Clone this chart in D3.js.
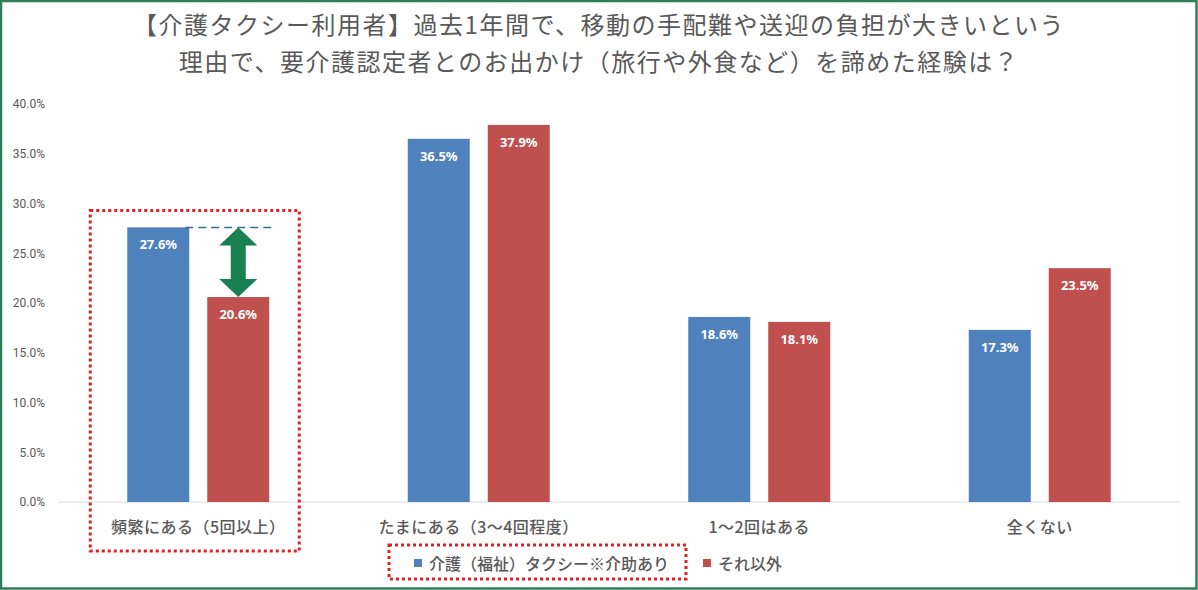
<!DOCTYPE html>
<html>
<head>
<meta charset="utf-8">
<script src="https://cdn.jsdelivr.net/npm/d3@7"></script>
<style>
  body { margin: 0; background: #fff; }
  svg { display: block; }
</style>
</head>
<body>
<svg id="chart"></svg>
<script>
// データ
const categories = ["頻繁にある（5回以上）", "たまにある（3～4回程度）", "1～2回はある", "全くない"];
const seriesNames = ["介護（福祉）タクシー※介助あり", "それ以外"];
const taxiValues = [27.6, 36.5, 18.6, 17.3];
const otherValues = [20.6, 37.9, 18.1, 23.5];
const seriesColors = ["#4f81bd", "#c0504d"];
const yTicks = [0, 5, 10, 15, 20, 25, 30, 35, 40];
const titleLines = [
  "【介護タクシー利用者】過去1年間で、移動の手配難や送迎の負担が大きいという",
  "理由で、要介護認定者とのお出かけ（旅行や外食など）を諦めた経験は？"
];

const width = 1198, height = 590;
const jp = "'Noto Sans CJK JP', 'Noto Sans', sans-serif";
const gray = "#595959";

const svg = d3.select("#chart")
  .attr("width", width)
  .attr("height", height);

// 外枠
svg.append("rect")
  .attr("x", 1).attr("y", 1)
  .attr("width", width - 2.5).attr("height", height - 2.5)
  .attr("fill", "#fff")
  .attr("stroke", "#2e7d5b")
  .attr("stroke-width", 2.5);

// タイトル
svg.append("g").selectAll("text")
  .data(titleLines)
  .enter().append("text")
  .attr("x", 599)
  .attr("y", (d, i) => 23 + i * 37.5)
  .attr("text-anchor", "middle")
  .attr("dominant-baseline", "central")
  .style("font-family", jp)
  .style("font-size", "24px")
  .style("letter-spacing", "1.5px")
  .style("fill", gray)
  .text(d => d);

// スケール
const x = d3.scaleBand()
  .domain(categories)
  .range([58, 1180])
  .padding(0);

const groupW = 142;
const xSub = d3.scaleBand()
  .domain(seriesNames)
  .range([(x.bandwidth() - groupW) / 2, (x.bandwidth() + groupW) / 2])
  .paddingInner(0.225)
  .paddingOuter(0);

const y = d3.scaleLinear()
  .domain([0, 40])
  .range([502, 104]);

// Y軸
const yAxis = svg.append("g")
  .attr("transform", "translate(48,0)")
  .call(d3.axisLeft(y)
    .tickValues(yTicks)
    .tickSize(0)
    .tickPadding(3)
    .tickFormat(d => d.toFixed(1) + "%"));
yAxis.select(".domain").remove();
yAxis.selectAll("text")
  .style("font-family", "Roboto, sans-serif")
  .style("font-size", "12px")
  .style("fill", gray);

// 基準線
svg.append("line")
  .attr("x1", x.range()[0]).attr("x2", x.range()[1])
  .attr("y1", y(0)).attr("y2", y(0))
  .attr("stroke", "#d9d9d9")
  .attr("stroke-width", 1);

// 棒グラフ
const rows = categories.map((c, i) => ({
  cat: c,
  vals: [
    { s: seriesNames[0], v: taxiValues[i], color: seriesColors[0] },
    { s: seriesNames[1], v: otherValues[i], color: seriesColors[1] }
  ]
}));

const groups = svg.append("g").selectAll("g")
  .data(rows)
  .enter().append("g")
  .attr("transform", d => `translate(${x(d.cat)},0)`);

groups.selectAll("rect")
  .data(d => d.vals)
  .enter().append("rect")
  .attr("x", d => xSub(d.s))
  .attr("y", d => y(d.v))
  .attr("width", xSub.bandwidth())
  .attr("height", d => y(0) - y(d.v))
  .attr("fill", d => d.color);

groups.selectAll("text.val")
  .data(d => d.vals)
  .enter().append("text")
  .attr("class", "val")
  .attr("x", d => xSub(d.s) + xSub.bandwidth() / 2)
  .attr("y", d => y(d.v) + 17)
  .attr("text-anchor", "middle")
  .attr("dominant-baseline", "central")
  .style("font-family", "'Noto Sans', sans-serif")
  .style("font-weight", "bold")
  .style("font-size", "13px")
  .style("fill", "#fff")
  .text(d => d.v.toFixed(1) + "%");

// カテゴリラベル
svg.append("g").selectAll("text")
  .data(categories)
  .enter().append("text")
  .attr("x", d => x(d) + x.bandwidth() / 2)
  .attr("y", 526)
  .attr("text-anchor", "middle")
  .attr("dominant-baseline", "central")
  .style("font-family", jp)
  .style("font-size", "16px")
  .style("font-weight", 500)
  .style("letter-spacing", "0.5px")
  .style("fill", gray)
  .text(d => d);

// 注釈：破線と両矢印
const c0 = categories[0];
const blueRight = x(c0) + xSub(seriesNames[0]) + xSub.bandwidth();
const redLeft = x(c0) + xSub(seriesNames[1]);
const redRight = redLeft + xSub.bandwidth();
const redMid = redLeft + xSub.bandwidth() / 2;
const yTop = y(taxiValues[0]);
const yBot = y(otherValues[0]);

svg.append("line")
  .attr("x1", blueRight - 4).attr("x2", redRight + 4)
  .attr("y1", yTop).attr("y2", yTop)
  .attr("stroke", "#2f6f94")
  .attr("stroke-width", 1.5)
  .attr("stroke-dasharray", "8,5");

const hw = 19, sw = 7.5, hh = 18;
svg.append("path")
  .attr("d", [
    "M", redMid, yTop,
    "L", redMid + hw, yTop + hh,
    "L", redMid + sw, yTop + hh,
    "L", redMid + sw, yBot - hh,
    "L", redMid + hw, yBot - hh,
    "L", redMid, yBot,
    "L", redMid - hw, yBot - hh,
    "L", redMid - sw, yBot - hh,
    "L", redMid - sw, yTop + hh,
    "L", redMid - hw, yTop + hh,
    "Z"
  ].join(" "))
  .attr("fill", "#188051");

// 赤い点線の枠
const dotted = { stroke: "#e02020", w: 3, dash: "3,3" };
svg.append("rect")
  .attr("x", x(c0) + xSub(seriesNames[0]) - 37)
  .attr("y", y(30) + 7)
  .attr("width", (redRight + 30) - (x(c0) + xSub(seriesNames[0]) - 37))
  .attr("height", 551 - (y(30) + 7))
  .attr("fill", "none")
  .attr("stroke", dotted.stroke)
  .attr("stroke-width", dotted.w)
  .attr("stroke-dasharray", dotted.dash);

// 凡例
const legendY = 563;
const legendX = [414, 703];
const legend = svg.append("g").selectAll("g")
  .data(seriesNames)
  .enter().append("g")
  .attr("transform", (d, i) => `translate(${legendX[i]},${legendY})`);

legend.append("rect")
  .attr("x", 0).attr("y", -4)
  .attr("width", 8).attr("height", 8)
  .attr("fill", (d, i) => seriesColors[i]);

legend.append("text")
  .attr("x", 15)
  .attr("y", 0)
  .attr("dominant-baseline", "central")
  .style("font-family", jp)
  .style("font-size", "16px")
  .style("font-weight", 500)
  .style("fill", gray)
  .text(d => d);

svg.append("rect")
  .attr("x", 389).attr("y", 545)
  .attr("width", 297).attr("height", 34)
  .attr("fill", "none")
  .attr("stroke", dotted.stroke)
  .attr("stroke-width", dotted.w)
  .attr("stroke-dasharray", dotted.dash);
</script>
</body>
</html>
